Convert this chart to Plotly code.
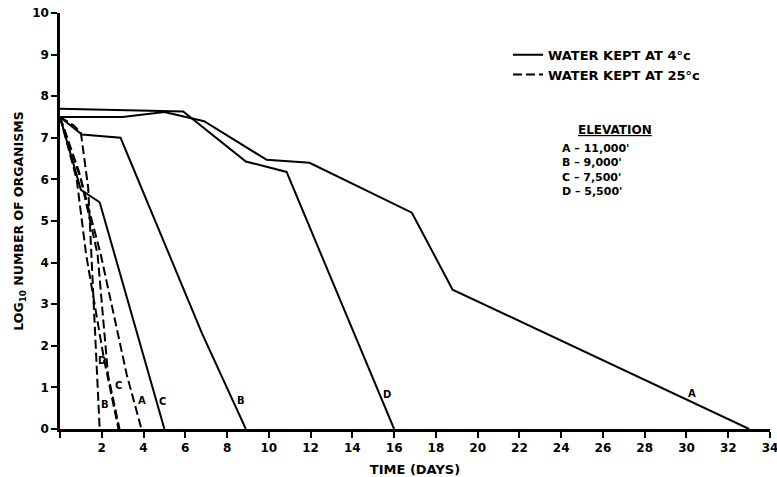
import plotly.graph_objects as go

# ---- data ----
# 4 deg C (solid)
a4_x = [0, 3, 5, 6.9, 9.9, 11.95, 16.85, 18.8, 33]
a4_y = [7.5, 7.5, 7.62, 7.4, 6.47, 6.4, 5.2, 3.35, 0]
b4_x = [0, 1.05, 2.9, 6.8, 8.9]
b4_y = [7.5, 7.08, 7.0, 2.3, 0]
c4_x = [0, 1.0, 1.9, 5.0]
c4_y = [7.5, 5.75, 5.45, 0]
d4_x = [0, 5.9, 8.9, 10.85, 16]
d4_y = [7.7, 7.63, 6.43, 6.18, 0]
# 25 deg C (dashed)
a25_x = [0, 0.9, 1.95, 3.2, 3.9]
a25_y = [7.5, 6.2, 4.2, 1.3, 0]
b25_x = [0, 0.65, 1.0, 1.35, 1.9]
b25_y = [7.5, 7.3, 7.12, 5.8, 0]
c25_x = [0, 1.0, 1.8, 2.3, 2.85]
c25_y = [7.5, 6.0, 4.2, 1.3, 0]
d25_x = [0, 0.8, 1.25, 2.1, 2.8]
d25_y = [7.5, 6.0, 4.2, 1.7, 0]

x_tick_vals = list(range(2, 35, 2))
x_tick_text = [str(v) for v in range(2, 35, 2)]
y_tick_vals = list(range(0, 11))
y_tick_text = [str(v) for v in range(0, 11)]

curve_labels = ["A", "D", "B", "C", "A", "B", "C", "D"]
label_x = [30.25, 15.65, 8.68, 4.9, 3.95, 2.15, 2.78, 2.0]
label_y = [0.85, 0.83, 0.68, 0.66, 0.68, 0.59, 1.04, 1.64]

elevation_lines = ["A \u2013 11,000'", "B \u2013 9,000'", "C \u2013 7,500'", "D \u2013 5,500'"]

FONT = "DejaVu Sans"
L, R = 60, 7
PW = 777 - L - R
fig = go.Figure()

solid = [(a4_x, a4_y), (b4_x, b4_y), (c4_x, c4_y), (d4_x, d4_y)]
dashed = [(a25_x, a25_y), (b25_x, b25_y), (c25_x, c25_y), (d25_x, d25_y)]
for i, (xs, ys) in enumerate(solid):
    fig.add_trace(go.Scatter(x=xs, y=ys, mode="lines",
                             line=dict(color="black", width=2),
                             name="WATER KEPT AT 4\u00b0c", legendgroup="g4",
                             showlegend=(i == 0)))
for i, (xs, ys) in enumerate(dashed):
    fig.add_trace(go.Scatter(x=xs, y=ys, mode="lines",
                             line=dict(color="black", width=2, dash="9px,4px"),
                             name="WATER KEPT AT 25\u00b0c", legendgroup="g25",
                             showlegend=(i == 0)))

for t, lx, ly in zip(curve_labels, label_x, label_y):
    fig.add_annotation(x=lx, y=ly, text=t, showarrow=False,
                       font=dict(family=FONT, size=10, color="black", weight="bold"))

fig.add_annotation(xref="paper", yref="paper", x=(615 - L) / PW, y=(429.3 - 121) / 416,
                   text="<u>ELEVATION</u>", showarrow=False, xanchor="center",
                   font=dict(family=FONT, size=12, color="black", weight="bold"))
fig.add_annotation(xref="paper", yref="paper", x=(560 - L) / PW, y=(429.3 - 140) / 416,
                   text="<br>".join(elevation_lines), showarrow=False,
                   xanchor="left", yanchor="top", align="left",
                   font=dict(family=FONT, size=11, color="black", weight="bold"))

fig.update_layout(
    width=777, height=477,
    margin=dict(l=L, r=R, t=13, b=48),
    paper_bgcolor="white", plot_bgcolor="white",
    font=dict(family=FONT, size=12, color="black", weight="bold"),
    legend=dict(x=(508 - L) / PW, y=(429.3 - 40) / 416, xanchor="left", yanchor="top",
                bgcolor="rgba(0,0,0,0)", tracegroupgap=0,
                font=dict(family=FONT, size=13, color="black", weight="bold")),
    xaxis=dict(range=[0, 34], tickvals=x_tick_vals, ticktext=x_tick_text,
               showgrid=False, zeroline=False, showline=True, linecolor="black",
               linewidth=2.5, ticks="outside", ticklen=6, tickwidth=2, tickcolor="black",
               ticklabeloverflow="allow", automargin=False,
               minor=dict(tickvals=[0], ticks="outside", ticklen=6, tickwidth=2,
                          tickcolor="black", showgrid=False),
               title=dict(text="TIME (DAYS)", standoff=14,
                          font=dict(family=FONT, size=13, color="black", weight="bold")),
               tickfont=dict(family=FONT, size=12, color="black", weight="bold")),
    yaxis=dict(range=[0, 10], tickvals=y_tick_vals, ticktext=y_tick_text,
               showgrid=False, zeroline=False, showline=True, linecolor="black",
               linewidth=2.5, ticks="outside", ticklen=6, tickwidth=2, tickcolor="black",
               automargin=False,
               title=dict(text="LOG<sub>10</sub> NUMBER OF ORGANISMS", standoff=6,
                          font=dict(family=FONT, size=12.5, color="black", weight="bold")),
               tickfont=dict(family=FONT, size=12, color="black", weight="bold")),
)

fig.write_html("out.html")
